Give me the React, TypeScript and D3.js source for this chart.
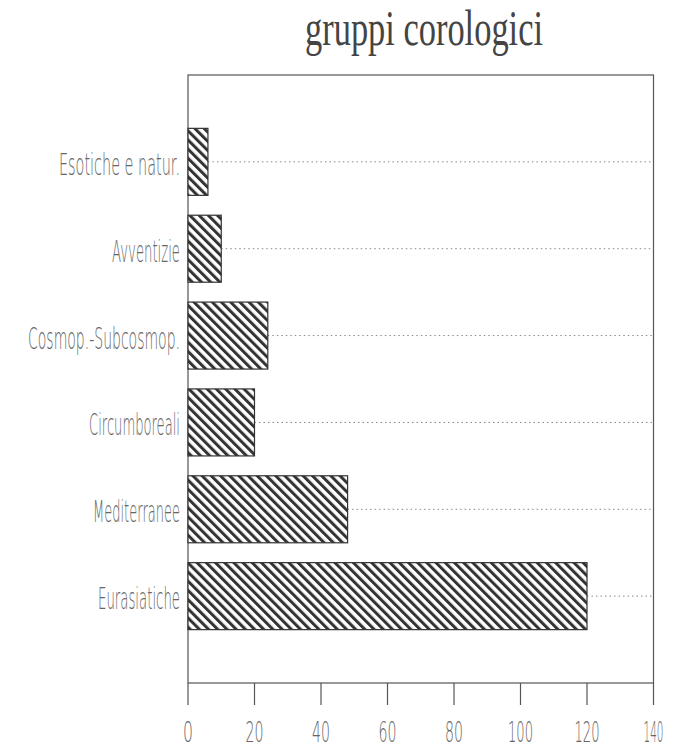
import * as d3 from "d3";

const categories = [
  "Eurasiatiche",
  "Mediterranee",
  "Circumboreali",
  "Cosmop.-Subcosmop.",
  "Avventizie",
  "Esotiche e natur.",
];
const counts = [120, 48, 20, 24, 10, 6];
const labelWidths = [82, 87, 91, 152, 68, 121];
const xTicks = [0, 20, 40, 60, 80, 100, 120, 140];
const tickWidths = [10, 18, 18, 18, 18, 25, 25, 20];

const W = 676;
const H = 749;
const left = 188;
const right = 653.5;
const top = 75;
const bottom = 683;

const App = () => {
  const x = d3.scaleLinear().domain([0, 140]).range([left, right]);
  // categories sit at positions 1..6 on a 0..7 scale
  const y = d3.scaleLinear().domain([0, 7]).range([bottom, top]);
  const barH = 67;
  const digitW = 28 * 0.636; // DejaVu digit advance at 28px

  return (
    <svg
      width={W}
      height={H}
      viewBox={`0 0 ${W} ${H}`}
      style={{ position: "absolute", left: 0, top: 0, background: "#fff" }}
    >
      <defs>
        <pattern
          id="hatch"
          patternUnits="userSpaceOnUse"
          width={6.5}
          height={6.5}
          patternTransform="rotate(-45)"
        >
          <rect width={6.5} height={6.5} fill="#fff" />
          <rect x={0} y={0} width={3} height={6.5} fill="#333" />
        </pattern>
      </defs>

      <text
        x={424}
        y={45}
        textAnchor="middle"
        fontFamily="Liberation Serif, DejaVu Serif, serif"
        fontSize={50}
        fill="#444"
        textLength={238}
        lengthAdjust="spacingAndGlyphs"
      >
        gruppi corologici
      </text>

      {/* frame */}
      <rect
        x={left}
        y={top}
        width={right - left}
        height={bottom - top}
        fill="none"
        stroke="#555"
        strokeWidth={1.2}
      />

      {/* dotted guides */}
      {categories.map((c, i) => (
        <line
          key={"g" + c}
          x1={x(counts[i])}
          x2={right}
          y1={y(i + 1)}
          y2={y(i + 1)}
          stroke="#888"
          strokeWidth={1}
          strokeDasharray="1.5,3"
        />
      ))}

      {/* bars */}
      {categories.map((c, i) => (
        <rect
          key={"b" + c}
          x={x(0)}
          y={y(i + 1) - barH / 2}
          width={x(counts[i]) - x(0)}
          height={barH}
          fill="url(#hatch)"
          stroke="#333"
          strokeWidth={1.2}
        />
      ))}

      {/* category labels */}
      {categories.map((c, i) => (
        <text
          key={"l" + c}
          x={180}
          y={y(i + 1) + 13}
          textAnchor="end"
          fontFamily="DejaVu Sans, sans-serif"
          fontWeight={200}
          fontSize={30}
          fill="#666"
          textLength={labelWidths[i]}
          lengthAdjust="spacingAndGlyphs"
        >
          {c}
        </text>
      ))}

      {/* x ticks */}
      {xTicks.map((t, i) => (
        <g key={"t" + t}>
          <line
            x1={x(t)}
            x2={x(t)}
            y1={bottom}
            y2={705}
            stroke="#555"
            strokeWidth={1.2}
          />
          <text
            transform={`translate(${x(t)},742) scale(${
              tickWidths[i] / (String(t).length * digitW)
            },1)`}
            textAnchor="middle"
            fontFamily="DejaVu Sans, sans-serif"
            fontWeight={200}
            fontSize={28}
            fill="#666"
          >
            {t}
          </text>
        </g>
      ))}
    </svg>
  );
};

export default App;
